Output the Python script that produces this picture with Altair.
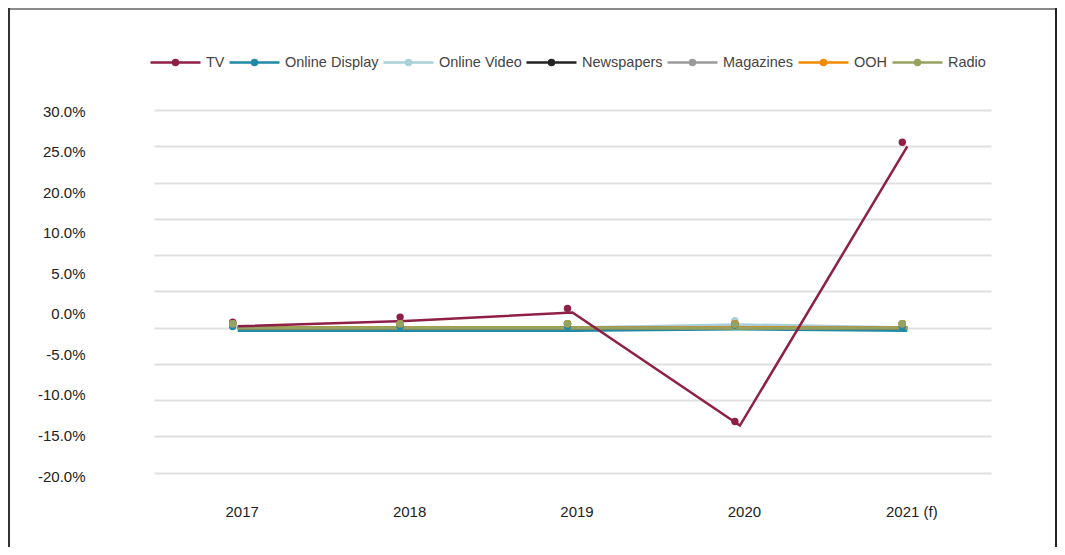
import json
import altair as alt
import pandas as pd

# ---------------- data ----------------
years = ["2017", "2018", "2019", "2020", "2021 (f)"]
series = ["TV", "Online Display", "Online Video", "Newspapers", "Magazines", "OOH", "Radio"]
colors = ["#8e1f47", "#1f8ba6", "#a9cfdc", "#222222", "#9a9a9a", "#f28a00", "#96a260"]

tv = [0.2, 0.9, 2.1, -13.5, 25.0]
online_display = [-0.4, -0.4, -0.4, -0.2, -0.4]
online_video = [0.0, 0.0, 0.0, 0.4, 0.0]
newspapers = [0.0, 0.0, 0.0, 0.0, 0.0]
magazines = [0.0, 0.0, 0.0, 0.0, 0.0]
ooh = [0.0, 0.0, 0.0, 0.0, 0.0]
radio = [0.0, 0.0, 0.0, -0.1, 0.0]

y_tick_labels = ["30.0%", "25.0%", "20.0%", "10.0%", "5.0%", "0.0%",
                 "-5.0%", "-10.0%", "-15.0%", "-20.0%"]
grid_values = [30, 25, 20, 15, 10, 5, 0, -5, -10, -15, -20]

values_by_series = [tv, online_display, online_video, newspapers, magazines, ooh, radio]
rows = []
for s, vals in zip(series, values_by_series):
    for y, v in zip(years, vals):
        rows.append({"series": s, "year": y, "value": v})
df = pd.DataFrame(rows)
lab_df = pd.DataFrame({"idx": list(range(len(y_tick_labels)))})
one = pd.DataFrame({"a": [0]})

FONT = "Liberation Sans"
PLOT_W, PLOT_H = 837, 367

# ---------------- shared encodings ----------------
legend_path = ("M-1,0L1,0"
               "M-0.1,0A0.1,0.1,0,1,1,0.1,0A0.1,0.1,0,1,1,-0.1,0"
               "M-0.05,0A0.05,0.05,0,1,1,0.05,0A0.05,0.05,0,1,1,-0.05,0")
legend = alt.Legend(
    title=None, orient="none", legendX=-5, legendY=-74, direction="horizontal",
    columns=7, symbolType=legend_path, symbolSize=2500, symbolStrokeWidth=2.5,
    labelFont=FONT, labelFontSize=14.5, labelColor="#444444", labelOffset=4,
    columnPadding=-1, labelLimit=300, symbolOpacity=1,
)
color = alt.Color("series:N", scale=alt.Scale(domain=series, range=colors), legend=legend)

x_axis = alt.Axis(title=None, labelAngle=0, ticks=False, domain=False, grid=False,
                  labelPadding=27, labelOffset=4, labelFont=FONT, labelFontSize=15,
                  labelColor="#222222")
x = alt.X("year:N", sort=years, scale=alt.Scale(domain=years, type="point", padding=0.5),
          axis=x_axis)

y_axis = alt.Axis(title=None, orient="right", values=grid_values, labels=False, ticks=False,
                  domain=False, grid=True, gridColor="#e0e0e0", gridWidth=2)
y = alt.Y("value:Q", scale=alt.Scale(domain=[-20.59, 30], nice=False, zero=False), axis=y_axis)

base = alt.Chart(df)
lines_other = base.transform_filter(alt.datum.series != "TV").mark_line(strokeWidth=3).encode(
    x=x, y=y, color=color)
line_tv = base.transform_filter(alt.datum.series == "TV").mark_line(strokeWidth=2.5).encode(
    x=x, y=y, color=color)
points = base.mark_circle(size=55, opacity=1, xOffset=-5, yOffset=-4).encode(
    x=x, y=y, color=color)

data_layers = alt.layer(lines_other, line_tv, points)

# y tick labels (as printed in the source, spaced independently of the grid)
label_expr = json.dumps(y_tick_labels) + "[datum.value]"
labels_layer = alt.Chart(lab_df).mark_point(opacity=0).encode(
    x=alt.value(0),
    y=alt.Y("idx:Q",
            scale=alt.Scale(domain=[-0.0247, 9.0235], reverse=True, nice=False, zero=False),
            axis=alt.Axis(title=None, orient="left", values=list(range(len(y_tick_labels))),
                          labelExpr=label_expr, grid=False, ticks=False, domain=False,
                          labelPadding=69, labelFont=FONT, labelFontSize=15,
                          labelColor="#222222", labelFlush=False, labelOverlap=False)),
)

# frame around the picture
frame_top = alt.Chart(one).mark_rule(color="#8a8a8a", strokeWidth=2).encode(
    x=alt.value(-146), x2=alt.value(903), y=alt.value(-101))
frame_left = alt.Chart(one).mark_rule(color="#333333", strokeWidth=2).encode(
    x=alt.value(-145), y=alt.value(-102), y2=alt.value(437))
frame_right = alt.Chart(one).mark_rule(color="#222222", strokeWidth=2).encode(
    x=alt.value(902), y=alt.value(-102), y2=alt.value(437))

chart = alt.layer(data_layers, labels_layer, frame_top, frame_left, frame_right).resolve_scale(
    y="independent"
).properties(
    width=PLOT_W, height=PLOT_H,
    autosize=alt.AutoSizeParams(type="none"),
    padding={"left": 146, "top": 102, "right": 66, "bottom": 70},
    background="white",
).configure_view(stroke="transparent")

chart.save("out.html", embed_options={"renderer": "svg", "actions": False})
